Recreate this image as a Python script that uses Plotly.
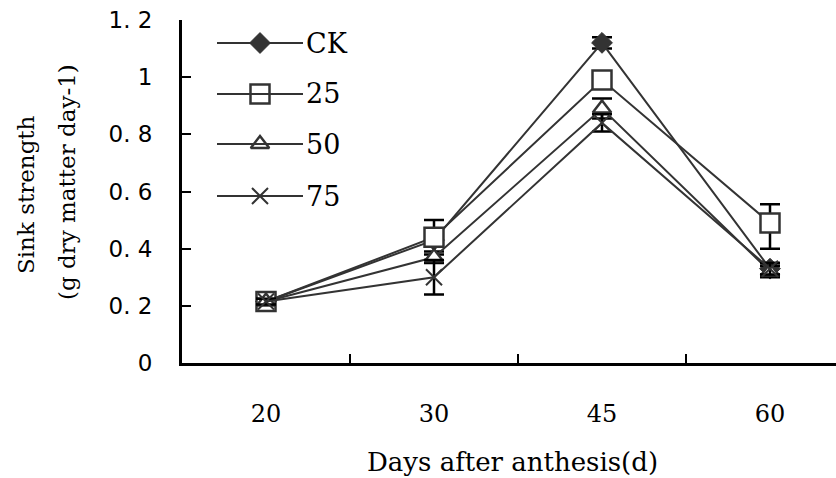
import plotly.graph_objects as go

# ---- data ----
days = ["20", "30", "45", "60"]
series_names = ["CK", "25", "50", "75"]
ck = [0.215, 0.43, 1.12, 0.33]
ck_err = [0.01, 0.02, 0.02, 0.02]
t25 = [0.215, 0.44, 0.99, 0.49]
t25_err_plus = [0.01, 0.06, 0.01, 0.065]
t25_err_minus = [0.01, 0.06, 0.01, 0.09]
t50 = [0.215, 0.37, 0.89, 0.32]
t50_err = [0.01, 0.02, 0.035, 0.02]
t75 = [0.215, 0.30, 0.84, 0.33]
t75_err = [0.01, 0.06, 0.03, 0.02]
y_ticks = [0, 0.2, 0.4, 0.6, 0.8, 1.0, 1.2]
y_ticktext = ["0", "0. 2", "0. 4", "0. 6", "0. 8", "1", "1. 2"]

LINE = "#333333"
styles = [
    dict(symbol="diamond", size=16, color=LINE, line=dict(color=LINE, width=1)),
    dict(symbol="square", size=19, color="white", line=dict(color=LINE, width=2.5)),
    dict(symbol="triangle-up", size=16, color="white", line=dict(color=LINE, width=2.5)),
    dict(symbol="x-thin-open", size=16, color=LINE, line=dict(color=LINE, width=2)),
]
values = [ck, t25, t50, t75]
err_plus = [ck_err, t25_err_plus, t50_err, t75_err]
err_minus = [ck_err, t25_err_minus, t50_err, t75_err]

fig = go.Figure()
for name, v, ep, em, st in zip(series_names, values, err_plus, err_minus, styles):
    fig.add_trace(go.Scatter(
        x=days, y=v, name=name, mode="lines+markers",
        line=dict(color=LINE, width=2),
        marker=st,
        error_y=dict(type="data", symmetric=False, array=ep, arrayminus=em,
                     visible=True, color="black", thickness=2.5, width=10),
        showlegend=False,
    ))

# ---- custom legend (layout constants) ----
W, H = 836, 478
ML, MR, MT, MB = 182, 0, 20, 115
PW, PH = W - ML - MR, H - MT - MB
leg_y_px = [43, 94, 144, 196]
leg_x0, leg_x1, leg_xm, leg_xt = 217, 303, 260, 304


def px2paper(x, y):
    return (x - ML) / PW, (H - MB - y) / PH


shapes = []
annotations = []
for name, st, ly in zip(series_names, styles, leg_y_px):
    xa, ya = px2paper(leg_x0, ly)
    xb, _ = px2paper(leg_x1, ly)
    shapes.append(dict(type="line", xref="paper", yref="paper", x0=xa, x1=xb,
                       y0=ya, y1=ya, line=dict(color=LINE, width=2)))
    xm, ym = px2paper(leg_xm, ly)
    fig.add_trace(go.Scatter(x=[xm], y=[ym], mode="markers", marker=st,
                             xaxis="x2", yaxis="y2", showlegend=False,
                             hoverinfo="skip"))
    xt, yt = px2paper(leg_xt, ly)
    annotations.append(dict(xref="paper", yref="paper", x=xt, y=yt,
                            xanchor="left", yanchor="middle", showarrow=False,
                            text=name, font=dict(family="DejaVu Serif",
                                                 size=27, color="black")))

# axis titles
annotations.append(dict(xref="paper", yref="paper", x=(512 - ML) / PW,
                        y=(H - MB - 462) / PH, xanchor="center", yanchor="middle",
                        showarrow=False, text="Days after anthesis(d)",
                        font=dict(family="DejaVu Serif", size=26, color="black")))
annotations.append(dict(xref="paper", yref="paper", x=(26 - ML) / PW,
                        y=(H - MB - 195) / PH, xanchor="center", yanchor="middle",
                        showarrow=False, text="Sink strength", textangle=-90,
                        font=dict(family="DejaVu Serif", size=23, color="black")))
annotations.append(dict(xref="paper", yref="paper", x=(67 - ML) / PW,
                        y=(H - MB - 182) / PH, xanchor="center", yanchor="middle",
                        showarrow=False, text="(g dry matter day-1)", textangle=-90,
                        font=dict(family="DejaVu Serif", size=23, color="black")))

fig.update_layout(
    width=W, height=H,
    margin=dict(l=ML, r=MR, t=MT, b=MB, pad=0),
    plot_bgcolor="white", paper_bgcolor="white",
    showlegend=False,
    shapes=shapes, annotations=annotations,
    xaxis=dict(type="category", categoryorder="array", categoryarray=days,
               range=[-0.5, -0.5 + PW / 168.0],
               showline=True, linecolor="black", linewidth=3,
               ticks="inside", tickson="boundaries", ticklen=9, tickwidth=2,
               tickcolor="black", showgrid=False, zeroline=False,
               ticklabelstandoff=27,
               tickfont=dict(family="DejaVu Serif", size=24, color="black")),
    yaxis=dict(range=[0, 1.2], tickvals=y_ticks, ticktext=y_ticktext,
               showline=True, linecolor="black", linewidth=3,
               ticks="inside", ticklen=9, tickwidth=2, tickcolor="black",
               showgrid=False, zeroline=False, ticklabelstandoff=22,
               tickfont=dict(family="DejaVu Sans", size=23, color="black")),
    xaxis2=dict(overlaying="x", range=[0, 1], visible=False),
    yaxis2=dict(overlaying="y", range=[0, 1], visible=False),
)

fig.write_html("out.html")
